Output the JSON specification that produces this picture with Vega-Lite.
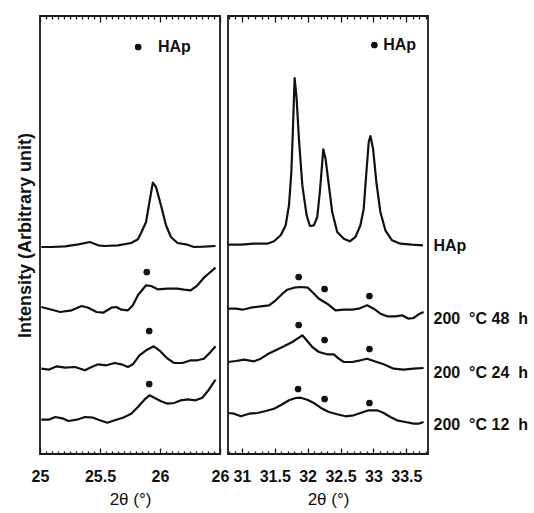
{
 "$schema": "https://vega.github.io/schema/vega-lite/v6.json",
 "padding": {"left": 15, "top": 14, "right": 2, "bottom": 2},
 "bounds": "flush",
 "spacing": 8,
 "config": {
  "view": {"stroke": "#1a1a1a", "strokeWidth": 1.8},
  "font": "Liberation Sans",
  "axis": {"labelFont": "Liberation Sans", "titleFont": "Liberation Sans", "labelColor": "#111", "titleColor": "#111", "tickColor": "#1a1a1a", "grid": false, "zindex": 1}
 },
 "datasets": {
  "left": [
   {"s":"HAp","x":25.011,"y":207},{"s":"HAp","x":25.099,"y":207},{"s":"HAp","x":25.209,"y":207.7},{"s":"HAp","x":25.32,"y":209.7},{"s":"HAp","x":25.416,"y":212},{"s":"HAp","x":25.485,"y":208.7},{"s":"HAp","x":25.54,"y":208},{"s":"HAp","x":25.65,"y":208.7},{"s":"HAp","x":25.76,"y":211},{"s":"HAp","x":25.816,"y":214.7},{"s":"HAp","x":25.843,"y":221.3},{"s":"HAp","x":25.884,"y":232},{"s":"HAp","x":25.912,"y":252},{"s":"HAp","x":25.94,"y":271.3},{"s":"HAp","x":25.967,"y":267},{"s":"HAp","x":26.008,"y":248.7},{"s":"HAp","x":26.05,"y":228.7},{"s":"HAp","x":26.091,"y":217},{"s":"HAp","x":26.146,"y":211},{"s":"HAp","x":26.229,"y":209.3},{"s":"HAp","x":26.283,"y":207},{"s":"HAp","x":26.366,"y":207.3},{"s":"HAp","x":26.463,"y":208},
   {"s":"48h","x":25.011,"y":147},{"s":"48h","x":25.099,"y":144.3},{"s":"48h","x":25.168,"y":142},{"s":"48h","x":25.264,"y":143.7},{"s":"48h","x":25.347,"y":148},{"s":"48h","x":25.402,"y":146.3},{"s":"48h","x":25.471,"y":142},{"s":"48h","x":25.526,"y":141.3},{"s":"48h","x":25.595,"y":146.3},{"s":"48h","x":25.636,"y":147},{"s":"48h","x":25.678,"y":144.3},{"s":"48h","x":25.733,"y":143.7},{"s":"48h","x":25.774,"y":148.7},{"s":"48h","x":25.816,"y":158.7},{"s":"48h","x":25.884,"y":168.7},{"s":"48h","x":25.926,"y":168},{"s":"48h","x":25.981,"y":164.7},{"s":"48h","x":26.064,"y":165.3},{"s":"48h","x":26.146,"y":165.3},{"s":"48h","x":26.201,"y":164.3},{"s":"48h","x":26.256,"y":163.7},{"s":"48h","x":26.312,"y":168.7},{"s":"48h","x":26.366,"y":176.3},{"s":"48h","x":26.421,"y":182},{"s":"48h","x":26.463,"y":186.3},
   {"s":"24h","x":25.011,"y":85.3},{"s":"24h","x":25.072,"y":84.3},{"s":"24h","x":25.14,"y":87.7},{"s":"24h","x":25.209,"y":86.3},{"s":"24h","x":25.292,"y":87},{"s":"24h","x":25.374,"y":83.7},{"s":"24h","x":25.43,"y":87},{"s":"24h","x":25.485,"y":89.7},{"s":"24h","x":25.554,"y":88.7},{"s":"24h","x":25.622,"y":91},{"s":"24h","x":25.678,"y":89.7},{"s":"24h","x":25.733,"y":87},{"s":"24h","x":25.774,"y":89.7},{"s":"24h","x":25.829,"y":98.7},{"s":"24h","x":25.884,"y":103.7},{"s":"24h","x":25.948,"y":107.7},{"s":"24h","x":25.994,"y":103.7},{"s":"24h","x":26.064,"y":95.3},{"s":"24h","x":26.118,"y":91},{"s":"24h","x":26.188,"y":91},{"s":"24h","x":26.256,"y":93.7},{"s":"24h","x":26.312,"y":93.7},{"s":"24h","x":26.366,"y":95.3},{"s":"24h","x":26.421,"y":102},{"s":"24h","x":26.463,"y":107.7},
   {"s":"12h","x":25.011,"y":34.3},{"s":"12h","x":25.072,"y":34.3},{"s":"12h","x":25.127,"y":37},{"s":"12h","x":25.196,"y":35.3},{"s":"12h","x":25.237,"y":33},{"s":"12h","x":25.306,"y":34.3},{"s":"12h","x":25.374,"y":37},{"s":"12h","x":25.443,"y":36.3},{"s":"12h","x":25.498,"y":33.7},{"s":"12h","x":25.562,"y":31.3},{"s":"12h","x":25.622,"y":33.7},{"s":"12h","x":25.691,"y":36.3},{"s":"12h","x":25.76,"y":40.3},{"s":"12h","x":25.816,"y":47},{"s":"12h","x":25.87,"y":54.3},{"s":"12h","x":25.912,"y":58.7},{"s":"12h","x":25.953,"y":56.3},{"s":"12h","x":26.008,"y":52.7},{"s":"12h","x":26.064,"y":50.3},{"s":"12h","x":26.118,"y":51},{"s":"12h","x":26.174,"y":53.7},{"s":"12h","x":26.229,"y":54.7},{"s":"12h","x":26.298,"y":53.7},{"s":"12h","x":26.353,"y":56.3},{"s":"12h","x":26.407,"y":64.3},{"s":"12h","x":26.463,"y":74.3}
  ],
  "right": [
   {"s":"HAp","x":30.792,"y":209.3},{"s":"HAp","x":30.985,"y":209.3},{"s":"HAp","x":31.186,"y":210.3},{"s":"HAp","x":31.389,"y":210.3},{"s":"HAp","x":31.489,"y":212.7},{"s":"HAp","x":31.591,"y":218.7},{"s":"HAp","x":31.667,"y":228.7},{"s":"HAp","x":31.717,"y":248.7},{"s":"HAp","x":31.753,"y":282},{"s":"HAp","x":31.777,"y":325.3},{"s":"HAp","x":31.803,"y":376},{"s":"HAp","x":31.833,"y":355.3},{"s":"HAp","x":31.868,"y":315.3},{"s":"HAp","x":31.92,"y":268.7},{"s":"HAp","x":31.985,"y":238.7},{"s":"HAp","x":32.035,"y":228},{"s":"HAp","x":32.095,"y":228.7},{"s":"HAp","x":32.147,"y":237},{"s":"HAp","x":32.186,"y":262},{"s":"HAp","x":32.223,"y":292},{"s":"HAp","x":32.238,"y":304.7},{"s":"HAp","x":32.273,"y":295.3},{"s":"HAp","x":32.323,"y":268.7},{"s":"HAp","x":32.374,"y":242},{"s":"HAp","x":32.45,"y":222},{"s":"HAp","x":32.55,"y":215.3},{"s":"HAp","x":32.641,"y":212.7},{"s":"HAp","x":32.727,"y":217},{"s":"HAp","x":32.803,"y":228.7},{"s":"HAp","x":32.853,"y":245.3},{"s":"HAp","x":32.894,"y":282},{"s":"HAp","x":32.929,"y":312},{"s":"HAp","x":32.955,"y":318},{"s":"HAp","x":32.995,"y":305.3},{"s":"HAp","x":33.045,"y":272},{"s":"HAp","x":33.106,"y":242},{"s":"HAp","x":33.182,"y":223.7},{"s":"HAp","x":33.283,"y":213.7},{"s":"HAp","x":33.409,"y":210.3},{"s":"HAp","x":33.586,"y":209.3},{"s":"HAp","x":33.753,"y":208.7},
   {"s":"48h","x":30.792,"y":145.3},{"s":"48h","x":30.909,"y":145.3},{"s":"48h","x":31.01,"y":144.3},{"s":"48h","x":31.136,"y":146.3},{"s":"48h","x":31.288,"y":147.7},{"s":"48h","x":31.414,"y":148.7},{"s":"48h","x":31.515,"y":153.7},{"s":"48h","x":31.617,"y":160.3},{"s":"48h","x":31.692,"y":164.3},{"s":"48h","x":31.792,"y":166.3},{"s":"48h","x":31.894,"y":167},{"s":"48h","x":32.005,"y":166.3},{"s":"48h","x":32.071,"y":162},{"s":"48h","x":32.172,"y":155.3},{"s":"48h","x":32.298,"y":150.3},{"s":"48h","x":32.424,"y":143.7},{"s":"48h","x":32.551,"y":144.3},{"s":"48h","x":32.677,"y":144.3},{"s":"48h","x":32.778,"y":145.3},{"s":"48h","x":32.905,"y":148.7},{"s":"48h","x":33.005,"y":145.3},{"s":"48h","x":33.106,"y":140.3},{"s":"48h","x":33.207,"y":137.7},{"s":"48h","x":33.333,"y":137.7},{"s":"48h","x":33.435,"y":138.7},{"s":"48h","x":33.535,"y":135.3},{"s":"48h","x":33.611,"y":136},{"s":"48h","x":33.687,"y":139.7},{"s":"48h","x":33.763,"y":142},
   {"s":"24h","x":30.792,"y":92},{"s":"24h","x":30.909,"y":93},{"s":"24h","x":31.035,"y":94.3},{"s":"24h","x":31.186,"y":92.7},{"s":"24h","x":31.288,"y":95.3},{"s":"24h","x":31.389,"y":99.7},{"s":"24h","x":31.515,"y":103.7},{"s":"24h","x":31.641,"y":107.7},{"s":"24h","x":31.768,"y":112},{"s":"24h","x":31.868,"y":116.3},{"s":"24h","x":31.92,"y":118.7},{"s":"24h","x":31.985,"y":113.7},{"s":"24h","x":32.071,"y":107},{"s":"24h","x":32.172,"y":102},{"s":"24h","x":32.298,"y":99.7},{"s":"24h","x":32.398,"y":99.7},{"s":"24h","x":32.474,"y":95.3},{"s":"24h","x":32.55,"y":92},{"s":"24h","x":32.677,"y":92},{"s":"24h","x":32.803,"y":93.7},{"s":"24h","x":32.905,"y":95.3},{"s":"24h","x":33.005,"y":93},{"s":"24h","x":33.157,"y":89.7},{"s":"24h","x":33.308,"y":85.3},{"s":"24h","x":33.46,"y":84.3},{"s":"24h","x":33.611,"y":85.3},{"s":"24h","x":33.763,"y":86},
   {"s":"12h","x":30.792,"y":41},{"s":"12h","x":30.883,"y":40.3},{"s":"12h","x":30.985,"y":37.7},{"s":"12h","x":31.111,"y":40.3},{"s":"12h","x":31.238,"y":41},{"s":"12h","x":31.364,"y":43},{"s":"12h","x":31.49,"y":45.3},{"s":"12h","x":31.617,"y":49.7},{"s":"12h","x":31.717,"y":53.7},{"s":"12h","x":31.818,"y":56},{"s":"12h","x":31.894,"y":56.3},{"s":"12h","x":31.995,"y":54.3},{"s":"12h","x":32.095,"y":51},{"s":"12h","x":32.197,"y":46.3},{"s":"12h","x":32.323,"y":42},{"s":"12h","x":32.45,"y":39.7},{"s":"12h","x":32.576,"y":37.7},{"s":"12h","x":32.702,"y":38.7},{"s":"12h","x":32.803,"y":41},{"s":"12h","x":32.929,"y":43.7},{"s":"12h","x":33.056,"y":43.7},{"s":"12h","x":33.157,"y":41},{"s":"12h","x":33.258,"y":37},{"s":"12h","x":33.359,"y":33.7},{"s":"12h","x":33.485,"y":32},{"s":"12h","x":33.611,"y":30.3},{"s":"12h","x":33.687,"y":30.3},{"s":"12h","x":33.763,"y":32}
  ],
  "ldots": [{"x":25.89,"y":182},{"x":25.91,"y":123},{"x":25.91,"y":70}],
  "rdots": [{"x":31.864,"y":177},{"x":32.258,"y":165},{"x":32.94,"y":158},{"x":31.864,"y":129},{"x":32.258,"y":114},{"x":32.94,"y":105},{"x":31.855,"y":65},{"x":32.258,"y":55},{"x":32.94,"y":51}],
  "lleg": [{"dx":25.818,"x":25.983,"y":407,"t":"HAp"}],
  "rleg": [{"dx":33.015,"x":33.15,"y":409,"t":"HAp"}]
 },
 "hconcat": [
  {
   "width": 180, "height": 438,
   "layer": [
    {"data": {"name": "left"},
     "mark": {"type": "line", "color": "#111", "strokeWidth": 2.2, "strokeJoin": "round"},
     "encoding": {
      "x": {"field": "x", "type": "quantitative", "scale": {"domain": [25, 26.5], "nice": false, "zero": false},
       "axis": {"orient": "bottom", "title": "2θ (°)", "domain": false, "offset": -6,
        "values": [25, 25.5, 26, 26.5], "tickSize": 6, "tickWidth": 1.3,
        "labelExpr": "datum.value==26.5 ? '26' : format(datum.value,'.1~f')",
        "labelFontSize": 16, "labelFontWeight": "bold", "labelPadding": 14, "labelOverlap": false, "labelFlush": false, "labelBound": false,
        "titleFontSize": 17, "titleFontWeight": "normal", "titlePadding": 7}},
      "y": {"field": "y", "type": "quantitative", "scale": {"domain": [0, 438], "nice": false, "zero": false},
       "axis": {"title": "Intensity (Arbitrary unit)", "labels": false, "ticks": false, "domain": false, "titleFontSize": 18, "titleFontWeight": "bold", "titlePadding": 6}},
      "detail": {"field": "s"}
     }},
    {"data": {"name": "ldots"},
     "mark": {"type": "point", "filled": true, "color": "#111", "size": 45, "opacity": 1},
     "encoding": {
      "x": {"field": "x", "type": "quantitative",
       "axis": {"orient": "top", "title": null, "domain": false, "labels": false, "offset": -6, "values": [25, 25.5, 26, 26.5], "tickSize": 6, "tickWidth": 1.3}},
      "y": {"field": "y", "type": "quantitative",
       "axis": {"title": "Intensity (Arbitrary unit)", "labels": false, "ticks": false, "domain": false, "titleFontSize": 18, "titleFontWeight": "bold", "titlePadding": 6}}
     }},
    {"data": {"name": "lleg"},
     "mark": {"type": "text", "align": "left", "baseline": "middle", "fontSize": 16, "fontWeight": "bold", "color": "#111"},
     "encoding": {
      "x": {"field": "x", "type": "quantitative",
       "axis": {"orient": "bottom", "title": null, "domain": false, "labels": false, "offset": -3,
        "values": [25.05,25.1,25.15,25.2,25.25,25.3,25.35,25.4,25.45,25.55,25.6,25.65,25.7,25.75,25.8,25.85,25.9,25.95,26.05,26.1,26.15,26.2,26.25,26.3,26.35,26.4,26.45], "tickSize": 3, "tickWidth": 1.3}},
      "y": {"field": "y", "type": "quantitative",
       "axis": {"title": "Intensity (Arbitrary unit)", "labels": false, "ticks": false, "domain": false, "titleFontSize": 18, "titleFontWeight": "bold", "titlePadding": 6}},
      "text": {"field": "t"}
     }},
    {"data": {"name": "lleg"},
     "mark": {"type": "point", "filled": true, "color": "#111", "size": 45, "opacity": 1},
     "encoding": {
      "x": {"field": "dx", "type": "quantitative",
       "axis": {"orient": "top", "title": null, "domain": false, "labels": false, "offset": -3,
        "values": [25.05,25.1,25.15,25.2,25.25,25.3,25.35,25.4,25.45,25.55,25.6,25.65,25.7,25.75,25.8,25.85,25.9,25.95,26.05,26.1,26.15,26.2,26.25,26.3,26.35,26.4,26.45], "tickSize": 3, "tickWidth": 1.3}},
      "y": {"field": "y", "type": "quantitative",
       "axis": {"title": "Intensity (Arbitrary unit)", "labels": false, "ticks": false, "domain": false, "titleFontSize": 18, "titleFontWeight": "bold", "titlePadding": 6}}
     }}
   ],
   "resolve": {"axis": {"x": "independent"}}
  },
  {
   "width": 200, "height": 438,
   "layer": [
    {"data": {"name": "right"},
     "mark": {"type": "line", "color": "#111", "strokeWidth": 2.2, "strokeJoin": "round"},
     "encoding": {
      "x": {"field": "x", "type": "quantitative", "scale": {"domain": [30.79, 33.83], "nice": false, "zero": false},
       "axis": {"orient": "bottom", "title": "2θ (°)", "domain": false, "offset": -6,
        "values": [31, 31.5, 32, 32.5, 33, 33.5], "tickSize": 6, "tickWidth": 1.3,
        "labelExpr": "format(datum.value,'.1~f')",
        "labelFontSize": 16, "labelFontWeight": "bold", "labelPadding": 14, "labelOverlap": false, "labelFlush": false, "labelBound": false,
        "titleFontSize": 17, "titleFontWeight": "normal", "titlePadding": 7}},
      "y": {"field": "y", "type": "quantitative", "scale": {"domain": [0, 438], "nice": false, "zero": false},
       "axis": {"orient": "right", "title": null, "ticks": false, "domain": false, "values": [30, 82, 136, 209],
        "labelExpr": "datum.value==209 ? 'HAp' : datum.value==136 ? '200 \u00a0°C 48\u00a0 h' : datum.value==82 ? '200 \u00a0°C 24\u00a0 h' : '200 \u00a0°C 12\u00a0 h'",
        "labelFontSize": 16, "labelFontWeight": "bold", "labelPadding": 5, "labelAlign": "left", "labelBaseline": "middle", "labelOverlap": false, "labelBound": false, "labelFlush": false}},
      "detail": {"field": "s"}
     }},
    {"data": {"name": "rdots"},
     "mark": {"type": "point", "filled": true, "color": "#111", "size": 45, "opacity": 1},
     "encoding": {
      "x": {"field": "x", "type": "quantitative",
       "axis": {"orient": "top", "title": null, "domain": false, "labels": false, "offset": -6, "values": [31, 31.5, 32, 32.5, 33, 33.5], "tickSize": 6, "tickWidth": 1.3}},
      "y": {"field": "y", "type": "quantitative",
       "axis": {"orient": "right", "title": null, "ticks": false, "domain": false, "values": [30, 82, 136, 209],
        "labelExpr": "datum.value==209 ? 'HAp' : datum.value==136 ? '200 \u00a0°C 48\u00a0 h' : datum.value==82 ? '200 \u00a0°C 24\u00a0 h' : '200 \u00a0°C 12\u00a0 h'",
        "labelFontSize": 16, "labelFontWeight": "bold", "labelPadding": 5, "labelAlign": "left", "labelBaseline": "middle", "labelOverlap": false, "labelBound": false, "labelFlush": false}}
     }},
    {"data": {"name": "rleg"},
     "mark": {"type": "text", "align": "left", "baseline": "middle", "fontSize": 16, "fontWeight": "bold", "color": "#111"},
     "encoding": {
      "x": {"field": "x", "type": "quantitative",
       "axis": {"orient": "bottom", "title": null, "domain": false, "labels": false, "offset": -3,
        "values": [30.8,30.9,31.1,31.2,31.3,31.4,31.6,31.7,31.8,31.9,32.1,32.2,32.3,32.4,32.6,32.7,32.8,32.9,33.1,33.2,33.3,33.4,33.6,33.7,33.8], "tickSize": 3, "tickWidth": 1.3}},
      "y": {"field": "y", "type": "quantitative",
       "axis": {"orient": "right", "title": null, "ticks": false, "domain": false, "values": [30, 82, 136, 209],
        "labelExpr": "datum.value==209 ? 'HAp' : datum.value==136 ? '200 \u00a0°C 48\u00a0 h' : datum.value==82 ? '200 \u00a0°C 24\u00a0 h' : '200 \u00a0°C 12\u00a0 h'",
        "labelFontSize": 16, "labelFontWeight": "bold", "labelPadding": 5, "labelAlign": "left", "labelBaseline": "middle", "labelOverlap": false, "labelBound": false, "labelFlush": false}},
      "text": {"field": "t"}
     }},
    {"data": {"name": "rleg"},
     "mark": {"type": "point", "filled": true, "color": "#111", "size": 45, "opacity": 1},
     "encoding": {
      "x": {"field": "dx", "type": "quantitative",
       "axis": {"orient": "top", "title": null, "domain": false, "labels": false, "offset": -3,
        "values": [30.8,30.9,31.1,31.2,31.3,31.4,31.6,31.7,31.8,31.9,32.1,32.2,32.3,32.4,32.6,32.7,32.8,32.9,33.1,33.2,33.3,33.4,33.6,33.7,33.8], "tickSize": 3, "tickWidth": 1.3}},
      "y": {"field": "y", "type": "quantitative",
       "axis": {"orient": "right", "title": null, "ticks": false, "domain": false, "values": [30, 82, 136, 209],
        "labelExpr": "datum.value==209 ? 'HAp' : datum.value==136 ? '200 \u00a0°C 48\u00a0 h' : datum.value==82 ? '200 \u00a0°C 24\u00a0 h' : '200 \u00a0°C 12\u00a0 h'",
        "labelFontSize": 16, "labelFontWeight": "bold", "labelPadding": 5, "labelAlign": "left", "labelBaseline": "middle", "labelOverlap": false, "labelBound": false, "labelFlush": false}}
     }}
   ],
   "resolve": {"axis": {"x": "independent"}}
  }
 ]
}
